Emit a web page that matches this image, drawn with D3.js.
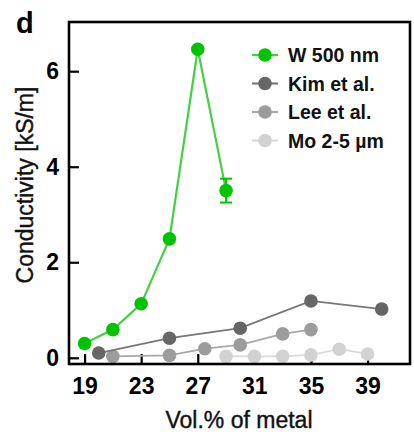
<!DOCTYPE html>
<html>
<head>
<meta charset="utf-8">
<script src="https://cdn.jsdelivr.net/npm/d3@7"></script>
<style>
  html, body { margin: 0; padding: 0; background: #fff; }
  svg { display: block; font-family: "Liberation Sans", Arial, sans-serif; }
</style>
</head>
<body>
<svg id="chart" width="414" height="440"></svg>
<script>
// ---- data ----
const seriesNames = ["W 500 nm", "Kim et al.", "Lee et al.", "Mo 2-5 µm"];
const wX = [19, 21, 23, 25, 27, 29];
const wY = [0.30, 0.59, 1.13, 2.49, 6.46, 3.50];
const wErr = [0, 0, 0, 0, 0, 0.25];
const kimX = [20, 25, 30, 35, 40];
const kimY = [0.10, 0.41, 0.62, 1.19, 1.02];
const leeX = [21, 25, 27.5, 30, 33, 35];
const leeY = [0.03, 0.05, 0.19, 0.27, 0.50, 0.59];
const moX = [29, 31, 33, 35, 37, 39];
const moY = [0.03, 0.03, 0.03, 0.06, 0.18, 0.08];
const xTicks = [19, 23, 27, 31, 35, 39];
const yTicks = [0, 2, 4, 6];
const xTitle = "Vol.% of metal";
const yTitle = "Conductivity [kS/m]";
const panelLabel = "d";

// ---- styles ----
const markerColors = ["#00c400", "#666666", "#9c9c9c", "#d2d2d2"];
const lineColors = ["#44d044", "#777777", "#a8a8a8", "#dadada"];
const lineWidths = [2.2, 1.8, 1.8, 1.8];

const svg = d3.select("#chart");
const L = 69, R = 410, T = 22, B = 364;
const x = d3.scaleLinear().domain([17.9, 42]).range([L, R]);
const y = d3.scaleLinear().domain([-0.13, 7.03]).range([B, T]);

const series = [
  { name: seriesNames[0], xs: wX, ys: wY, err: wErr },
  { name: seriesNames[1], xs: kimX, ys: kimY },
  { name: seriesNames[2], xs: leeX, ys: leeY },
  { name: seriesNames[3], xs: moX, ys: moY }
];

// axes
const xAxis = d3.axisBottom(x).tickValues(xTicks).tickSize(-10).tickPadding(14).tickFormat(d3.format("d"));
const yAxis = d3.axisLeft(y).tickValues(yTicks).tickSize(-10).tickPadding(10).tickFormat(d3.format("d"));

const gx = svg.append("g").attr("transform", `translate(0,${B})`).call(xAxis);
const gy = svg.append("g").attr("transform", `translate(${L},0)`).call(yAxis);
[gx, gy].forEach(g => {
  g.select(".domain").remove();
  g.selectAll(".tick line").attr("stroke", "#000").attr("stroke-width", 2.2);
  g.selectAll(".tick text").attr("fill", "#000").attr("font-size", 23).attr("font-weight", "bold")
    .attr("font-family", "Liberation Sans, Arial, sans-serif");
});

// series (draw in reverse so the green one is on top)
const line = d3.line();
series.slice().reverse().forEach((s) => {
  const i = series.indexOf(s);
  const pts = s.xs.map((v, j) => [x(v), y(s.ys[j])]);
  svg.append("path").attr("d", line(pts)).attr("fill", "none")
    .attr("stroke", lineColors[i]).attr("stroke-width", lineWidths[i]);
  if (s.err) {
    s.xs.forEach((v, j) => {
      const e = s.err[j];
      if (!e) return;
      const cx = x(v), y1 = y(s.ys[j] - e), y2 = y(s.ys[j] + e);
      const g = svg.append("g").attr("stroke", markerColors[i]).attr("stroke-width", 2);
      g.append("line").attr("x1", cx).attr("x2", cx).attr("y1", y1).attr("y2", y2);
      g.append("line").attr("x1", cx - 6).attr("x2", cx + 6).attr("y1", y1).attr("y2", y1);
      g.append("line").attr("x1", cx - 6).attr("x2", cx + 6).attr("y1", y2).attr("y2", y2);
    });
  }
  svg.append("g").selectAll("circle").data(pts).join("circle")
    .attr("cx", d => d[0]).attr("cy", d => d[1]).attr("r", 6.8)
    .attr("fill", markerColors[i]);
});

// frame
svg.append("rect").attr("x", L).attr("y", T).attr("width", R - L).attr("height", B - T)
  .attr("fill", "none").attr("stroke", "#000").attr("stroke-width", 2.6);

// legend
const leg = svg.append("g").attr("transform", "translate(252,55)");
series.forEach((s, i) => {
  const g = leg.append("g").attr("transform", `translate(0,${i * 28.5})`);
  g.append("line").attr("x1", 0).attr("x2", 26).attr("y1", 0).attr("y2", 0)
    .attr("stroke", lineColors[i]).attr("stroke-width", 2.2);
  g.append("circle").attr("cx", 13).attr("cy", 0).attr("r", 6.8).attr("fill", markerColors[i]);
  g.append("text").attr("x", 36).attr("y", 0).attr("dy", "0.36em")
    .attr("font-size", 19.5).attr("font-weight", "bold").attr("fill", "#111").text(s.name);
});

// titles
svg.append("text").attr("x", 239).attr("y", 428).attr("text-anchor", "middle")
  .attr("font-size", 23).attr("fill", "#111").attr("stroke", "#111").attr("stroke-width", 0.4)
  .text(xTitle);
svg.append("text").attr("transform", "translate(33,185) rotate(-90)").attr("text-anchor", "middle")
  .attr("font-size", 23).attr("fill", "#111").attr("stroke", "#111").attr("stroke-width", 0.4)
  .text(yTitle);
svg.append("text").attr("x", 16).attr("y", 33).attr("font-size", 29).attr("font-weight", "bold")
  .attr("fill", "#000").text(panelLabel);
</script>
</body>
</html>
